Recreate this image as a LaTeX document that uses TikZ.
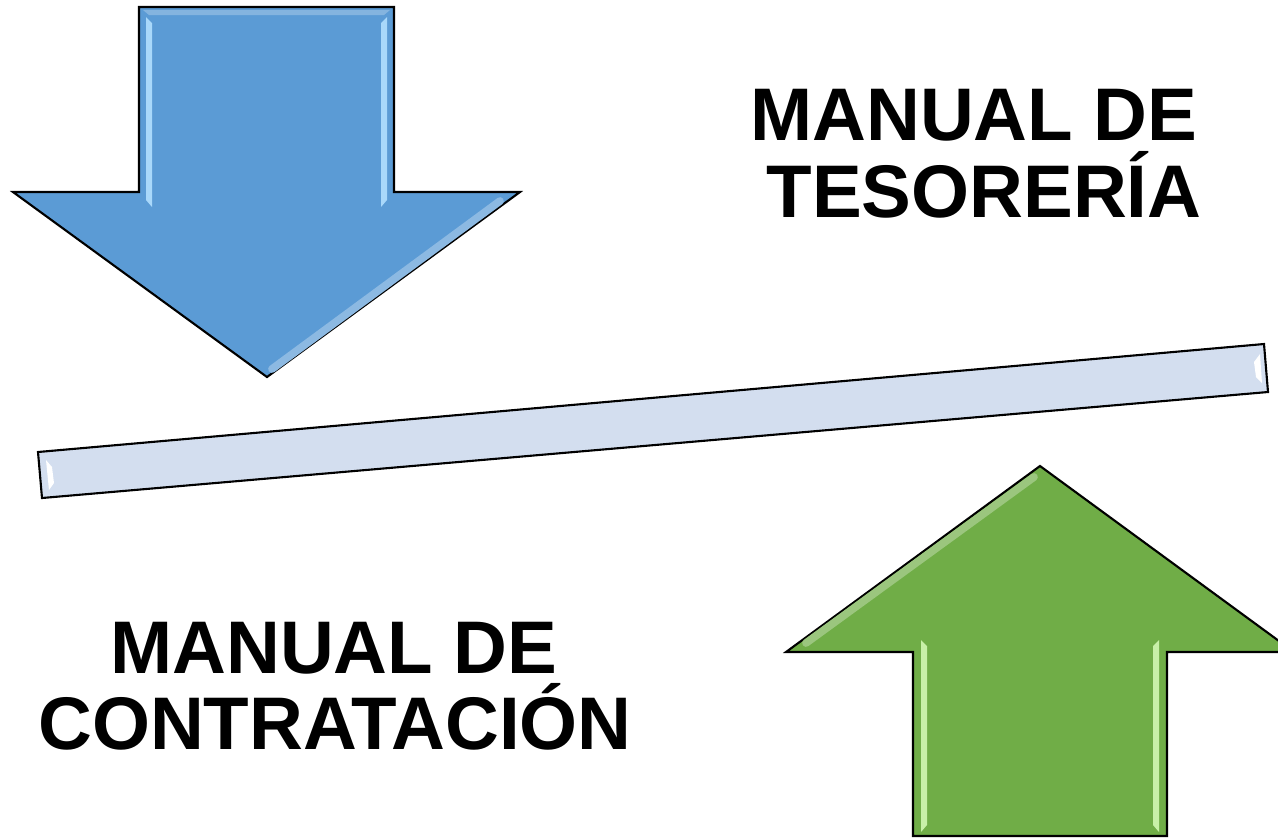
\documentclass[tikz,border=0pt]{standalone}
\usepackage{fontspec}
\setmainfont{Liberation Sans}
\usepackage{tikz}
\usepackage{xcolor}
\definecolor{downblue}{HTML}{5B9BD5}
\definecolor{upgreen}{HTML}{70AD47}
\definecolor{barblue}{HTML}{D3DEEF}
\definecolor{blueshine}{HTML}{A9D8FA}
\definecolor{greenshine}{HTML}{C8F0A8}

\begin{document}
\begin{tikzpicture}[x=0.01cm, y=-0.01cm,
    outline/.style={draw=black, line width=0.6pt, line join=miter},
    title/.style={font=\fontsize{21.2pt}{22pt}\selectfont\bfseries, inner sep=0pt, anchor=base}]

    \useasboundingbox (0,0) rectangle (1278,838);

    % arrow pointing down
    \filldraw[outline, fill=downblue] (139,7) -- (394,7) -- (394,192) -- (520,192) -- (267,377) -- (13,192) -- (139,192) -- cycle;
    \fill[downblue!75!white] (143,10) -- (390,10) -- (384,15) -- (149,15) -- cycle;
    \fill[blueshine] (146,17) -- (152,23) -- (152,207) -- (146,200) -- cycle;
    \fill[blueshine] (387,17) -- (381,23) -- (381,207) -- (387,200) -- cycle;
    \draw[downblue!70!white, line width=2.2pt, line cap=round] (500,201) -- (272,369);

    % bar
    \filldraw[outline, fill=barblue] (38,452) -- (1264,344) -- (1268,392) -- (42,498) -- cycle;
    \fill[white] (46,460) -- (52,467) -- (54,483) -- (49,490) -- cycle;
    \fill[white] (1260,354) -- (1254,362) -- (1256,377) -- (1262,383) -- cycle;

    % arrow pointing up
    \filldraw[outline, fill=upgreen] (1040,466) -- (1294,652) -- (1167,652) -- (1167,836) -- (913,836) -- (913,652) -- (786,652) -- cycle;
    \fill[greenshine] (921,640) -- (927,646) -- (927,825) -- (921,832) -- cycle;
    \fill[greenshine] (1159,640) -- (1153,646) -- (1153,825) -- (1159,832) -- cycle;
    \draw[upgreen!70!white, line width=2.2pt, line cap=round] (806,643) -- (1034,477);

    % titles
    \node[title] (tesoreria1) at (974,140) {MANUAL DE};
    \node[title] (tesoreria2) at (984,217) {TESORERÍA};
    \node[title] (contratacion1) at (334,673) {MANUAL DE};
    \node[title] (contratacion2) at (335,749) {CONTRATACIÓN};

\end{tikzpicture}
\end{document}
